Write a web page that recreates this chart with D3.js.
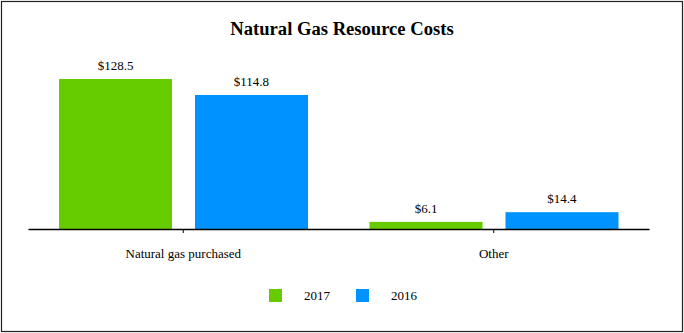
<!DOCTYPE html>
<html>
<head>
<meta charset="utf-8">
<script src="https://cdn.jsdelivr.net/npm/d3@7"></script>
<style>
  html, body { margin: 0; padding: 0; background: #fff; }
  svg { display: block; }
  text { font-family: "Liberation Serif", "Times New Roman", serif; fill: #000; }
</style>
</head>
<body>
<svg id="chart" width="684" height="333"></svg>
<script>
// Resource cost categories and yearly values ($ millions)
const categories = ["Natural gas purchased", "Other"];
const seriesNames = ["2017", "2016"];
const values2017 = [128.5, 6.1];
const values2016 = [114.8, 14.4];
const seriesColors = ["#66cc00", "#0092ff"];

const svg = d3.select("#chart");
const W = 684, H = 333;

// outer frame
svg.append("rect")
  .attr("x", 1.5).attr("y", 1.5)
  .attr("width", W - 3).attr("height", H - 3)
  .attr("fill", "none").attr("stroke", "#222").attr("stroke-width", 1.2);

svg.append("text")
  .attr("x", 342).attr("y", 35)
  .attr("text-anchor", "middle")
  .attr("font-size", 18.6).attr("font-weight", "bold")
  .text("Natural Gas Resource Costs");

const axisY = 229;
const x0 = d3.scaleBand().domain(categories).range([28, 649]).paddingInner(0).paddingOuter(0);
const x1 = d3.scaleBand().domain(seriesNames).range([31, 280]).paddingInner(0.169).paddingOuter(0);
const y = d3.scaleLinear().domain([0, 128.5]).range([axisY, 79]);

const rows = categories.map((c, i) => ({
  category: c,
  items: [
    { series: seriesNames[0], value: values2017[i], color: seriesColors[0] },
    { series: seriesNames[1], value: values2016[i], color: seriesColors[1] }
  ]
}));

const groups = svg.selectAll("g.cat").data(rows).join("g")
  .attr("class", "cat")
  .attr("transform", d => `translate(${x0(d.category)},0)`);

groups.selectAll("rect").data(d => d.items).join("rect")
  .attr("x", d => x1(d.series))
  .attr("width", x1.bandwidth())
  .attr("y", d => y(d.value))
  .attr("height", d => axisY - y(d.value))
  .attr("fill", d => d.color);

groups.selectAll("text.val").data(d => d.items).join("text")
  .attr("class", "val")
  .attr("x", d => x1(d.series) + x1.bandwidth() / 2)
  .attr("y", d => y(d.value) - 9)
  .attr("text-anchor", "middle")
  .attr("font-size", 13)
  .text(d => "$" + d.value.toFixed(1));

// category axis
const axis = svg.append("g")
  .attr("transform", `translate(0,${axisY})`)
  .call(d3.axisBottom(x0).tickSize(4).tickSizeOuter(0).tickPadding(16));
axis.select(".domain").attr("stroke", "#000").attr("stroke-width", 1.3);
axis.selectAll(".tick line").attr("stroke", "#000");
axis.selectAll(".tick text")
  .attr("font-family", "Liberation Serif, Times New Roman, serif")
  .attr("font-size", 13).attr("fill", "#000");

// legend
const legend = svg.append("g");
const legendX = [269, 356];
seriesNames.forEach((s, i) => {
  legend.append("rect")
    .attr("x", legendX[i]).attr("y", 289)
    .attr("width", 13).attr("height", 13)
    .attr("fill", seriesColors[i]);
  legend.append("text")
    .attr("x", legendX[i] + 35).attr("y", 300)
    .attr("font-size", 13)
    .text(s);
});
</script>
</body>
</html>
